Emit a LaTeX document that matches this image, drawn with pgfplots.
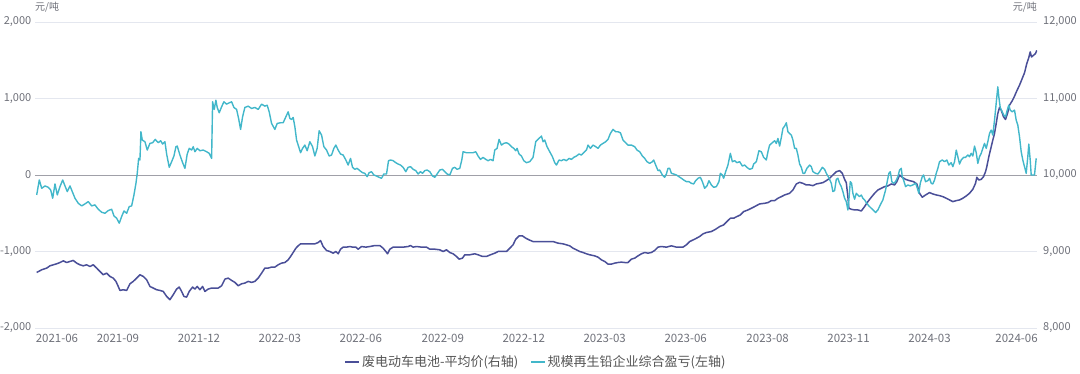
\documentclass[border=0pt]{standalone}
\usepackage{fontspec}
\setmainfont{Noto Sans CJK SC}
\usepackage{pgfplots}
\pgfplotsset{compat=1.18}
\definecolor{navyline}{RGB}{74,79,152}
\definecolor{cyanline}{RGB}{66,183,202}
\definecolor{gridc}{RGB}{228,231,239}
\definecolor{zeroc}{RGB}{160,160,168}
\definecolor{tickc}{RGB}{110,112,121}
\definecolor{legc}{RGB}{85,85,85}

\pgfplotstableread{
x y
36.7 8726
41.7 8761
46.7 8783
50 8813
53.3 8826
56.7 8839
60 8856
63.3 8878
66.7 8856
70 8870
73.3 8883
76.7 8848
80 8826
83.3 8813
86.7 8826
90 8804
93.3 8826
96.7 8783
100 8739
103.3 8696
106.7 8717
110 8674
113.3 8652
116 8609
118.3 8543
120 8491
123.3 8500
126.7 8491
130 8578
133.3 8609
136.7 8652
140 8696
143.3 8674
146.7 8630
150 8543
153.3 8522
156.7 8500
160 8491
163.3 8478
166.7 8413
170 8370
173.3 8435
176.7 8509
179.3 8535
181.7 8478
184 8413
186.7 8404
189.3 8478
192.7 8535
195 8509
197.3 8543
200 8500
202.7 8543
205 8478
208.3 8509
211.7 8522
215 8522
218.3 8522
221.7 8552
225 8639
228.3 8652
231.7 8622
235 8596
238.3 8552
241.7 8578
245 8587
248.3 8609
251.7 8596
255 8609
258.3 8652
261.7 8717
265 8783
268.3 8783
271.7 8796
275 8796
278.3 8826
281.7 8848
285 8856
288.3 8891
290.7 8935
293.3 8987
296 9043
298.3 9074
300.7 9100
305 9100
310 9100
315 9100
318.3 9117
320.7 9143
323.3 9065
326.7 9013
330 9000
333.3 8978
336 9000
338.3 8970
340.7 9030
343.3 9057
346.7 9057
350 9065
352.7 9057
356 9057
358.3 9030
361.7 9065
366 9057
370 9065
375 9078
380 9078
383.3 9043
386 9000
387.7 8970
390 9030
393.3 9057
398.3 9057
403.3 9057
408.3 9065
410.7 9078
413.3 9057
416.7 9065
421.7 9057
426.7 9057
430 9030
435 9030
440 9022
443.3 9000
446.7 9022
450 8987
453.3 8970
456.7 8935
459.3 8900
462.7 8913
465 8957
470 8957
475 8970
478.3 8957
482.7 8935
486.7 8935
490.7 8957
495 8978
498.3 9000
502.7 9000
506.7 9000
510 9043
513.3 9087
516 9161
519.3 9204
522.7 9204
526 9174
529.3 9152
533.3 9130
540 9130
546.7 9130
553.3 9130
558.3 9109
563.3 9100
566.7 9087
570 9074
573.3 9043
576.7 9022
580 9000
583.3 8987
586.7 8970
590 8957
595 8943
598.3 8926
601.7 8891
605 8870
608.3 8835
611.7 8835
615 8848
618.3 8856
621.7 8861
625 8856
628.3 8856
631.7 8900
635 8913
638.3 8943
641.7 8970
645 8987
648.3 8978
651.7 8987
655 9013
658.3 9057
661.7 9065
666.7 9057
671.7 9074
676.7 9057
683.3 9057
686.7 9087
690 9130
695 9161
700 9196
703.3 9230
706.7 9248
711.7 9261
716 9291
720 9326
724 9348
727.3 9391
730.7 9435
734 9435
737.3 9457
740.7 9478
744 9522
748.3 9543
751.7 9565
755 9587
760 9622
765 9630
768.3 9639
771.7 9665
775 9665
778.3 9696
781.7 9717
785 9739
790 9761
793.3 9804
796.7 9883
800 9904
803.3 9891
806.7 9870
810 9870
813.3 9861
816.7 9883
820 9891
823.3 9900
826.7 9926
830 9957
833.3 10000
836.7 10043
840 10057
842.7 10022
845 9943
846.7 9900
848.3 9717
849.3 9565
851.7 9552
855 9543
858.3 9543
861.7 9530
865 9587
868.3 9652
871.7 9709
875 9761
878.3 9804
881.7 9826
885 9848
888.3 9857
891.7 9883
895 9870
897.3 9913
900 10000
902.7 9970
906 9943
910 9926
914 9913
917.3 9883
920 9761
922.7 9709
926 9739
930 9770
933.3 9752
936.7 9739
940 9730
943.3 9717
946.7 9696
950 9674
953.3 9652
956.7 9665
960 9674
963.3 9696
966.7 9726
970 9761
973.3 9813
976 9891
977.3 9970
979.3 9935
981.7 9943
984 9978
986 10043
987.3 10109
989.3 10239
991.7 10370
993.3 10457
995 10543
996.7 10674
998.3 10804
1000 10883
1001.7 10848
1004 10761
1006 10726
1008 10804
1010 10913
1012.7 10970
1015 11030
1017.3 11100
1020 11174
1022.7 11261
1025 11335
1027.3 11457
1029.3 11535
1030.7 11609
1032 11543
1034 11565
1036 11587
1037.3 11630
}\batterytable

\pgfplotstableread{
x y
36.7 -261
39.3 -65
41.7 -174
45 -143
48.3 -161
50.7 -196
52.7 -304
55 -117
57.3 -261
60 -152
62.7 -65
65 -143
67.3 -217
70 -143
72.7 -230
75 -304
78.3 -370
81.7 -404
85 -378
88.3 -348
91.7 -404
95 -391
98.3 -448
101.7 -487
105 -500
108.3 -465
111.7 -448
114 -535
116.7 -565
119.3 -630
121.7 -543
124 -470
126.7 -500
129.3 -413
131.7 -404
134 -261
136 -109
137.3 22
138.7 217
140 196
141 565
142.3 457
145 435
147.3 326
150 413
152.7 422
155.3 465
158.3 422
160.7 448
162.7 404
165 435
166.7 274
169.3 100
171.7 174
174 248
176 370
177.3 378
180 261
182.7 161
185 87
187.3 274
189.3 348
191.7 326
193.3 370
195 304
197.3 348
200 317
203.3 326
206.7 304
209.3 283
211.7 217
212.7 957
214.3 857
216 978
217.3 883
219.3 813
221.7 891
224 957
226.7 926
229.3 943
231.7 957
234 883
236.7 857
238.7 739
240.7 596
242.7 761
245 883
248.3 900
251.7 870
255 883
258.3 857
261.7 926
265 900
267.3 913
269.3 826
271.7 674
275 596
277.3 674
280.7 683
283.3 683
286 761
288.3 826
290 739
291.7 726
293.3 752
295 630
296.7 457
298.3 391
300.7 291
302.7 348
305 391
307.3 317
310 435
312.7 370
315 248
317.3 348
319.3 578
321.7 522
324 370
326.7 326
329.3 248
331.7 261
334 348
336 391
338.3 326
340.7 274
343.3 261
346 196
348.3 130
350.7 217
352.7 100
355 74
357.3 87
360 57
362.7 30
365 22
367.3 -22
369.3 30
371.7 43
374 0
376.7 -13
379.3 -30
381.7 -43
384 13
386.7 13
388.7 187
390.7 196
393.3 187
396 161
398.3 143
400.7 130
403.3 100
406 43
408.3 100
410.7 109
413.3 74
416 57
418.3 13
420.7 43
422.7 22
425 57
427.3 65
430 43
432.7 -13
435 -30
437.3 13
440 65
442.7 74
445 43
447.3 13
450 0
452.7 87
455 100
457.3 74
460 87
462 196
463.3 304
466.7 291
470 291
473.3 291
476 304
478.3 248
480.7 204
483.3 230
486 204
488.3 187
490.7 204
493.3 187
495 326
497.3 348
499.3 465
501.7 391
504 413
506.7 422
509.3 404
511.7 370
514 348
516 317
517.3 348
519.3 274
521.7 248
524 187
526.7 161
530 174
533.3 230
536 435
539.3 478
541.7 509
543.3 435
545 457
547.3 370
550 304
552.7 239
555 161
556.7 130
559.3 196
561.7 187
564 204
566.7 187
569.3 217
571.7 204
574 230
576.7 248
579.3 274
581.7 261
584 291
586.7 326
588.3 391
590.7 348
593.3 391
596 370
598.3 348
600.7 391
603.3 413
606 435
608.3 465
610.7 543
613.3 596
616 565
618.3 565
620.7 552
623.3 457
626 422
628.3 391
631.7 391
635 370
637.3 326
640 304
642.7 248
645 217
647.3 174
650 152
652.7 174
654 196
656 130
658.3 57
660 65
662.7 0
665 -30
666.7 13
668.3 87
670 87
671.7 22
674 13
676.7 0
679.3 -22
681.7 -43
684 -65
686.7 -87
689.3 -87
691.7 -109
694 -117
696 -74
698.3 -43
700.7 -30
702.7 -87
705 -174
707.3 -143
709.3 -74
711.7 -130
714 -161
716.7 -152
719.3 -87
720.7 22
722.7 0
724 -43
726 43
728.3 130
730.7 283
732.7 174
735 187
737.3 161
740 174
742.7 117
745 130
747.3 100
750 74
752.7 87
754 143
756.7 174
759.3 317
761.7 304
764 230
766.7 196
768.3 304
770 391
772.7 422
775 448
776.7 413
778.3 478
780 378
781.7 491
783.3 609
785 639
786.7 683
787.7 609
788.3 565
790 543
791.7 522
793.3 457
795 348
796.7 348
798.3 261
800 143
801.7 100
803.3 22
805 22
807.3 87
810 130
811.7 109
813.3 43
816 22
818.3 13
820 43
822.7 100
825 74
826.7 22
828.3 -13
830 -57
831.7 -109
833.3 -217
835 -204
836.7 -57
838.3 -43
840 -109
841.7 -152
843.3 -217
845 -304
846.7 -348
848.3 -457
849.3 -326
850.7 -87
852 -109
853.3 -239
855 -317
856.7 -239
858.3 -261
860 -283
861.7 -261
863.3 -304
865 -326
866.7 -361
869.3 -404
871.7 -435
874 -465
876 -491
878.3 -457
880.7 -391
883.3 -326
886 -196
887.3 -109
889.3 22
890.7 43
892.3 -87
894 -109
896 -87
898.3 -22
900 65
901.7 87
902.7 -22
904 -65
906 -152
908.3 -130
910.7 -143
913.3 -130
916 -109
917.3 -152
919.3 -239
920.7 -109
922.7 -22
924 0
926 -87
928.3 -74
930 -43
931.7 -109
933.3 -117
935 -65
936.7 22
938.3 87
940 174
942.7 196
945 174
947.3 196
949.3 130
951.7 161
953.3 109
955 174
956.7 326
958.3 239
960 143
961.7 196
964 230
966 230
968.3 261
970 239
971.7 283
973.3 248
975 378
976.7 291
978.3 152
980 239
981.7 283
983.3 348
985 413
986.7 348
988.3 435
990 543
991.7 587
993.3 522
995 717
996 848
997.3 1022
998.3 1152
999.3 1022
1000.7 883
1002.7 826
1004.3 783
1006 761
1007.7 848
1009.3 913
1010.7 848
1012.7 826
1015 848
1016.7 717
1018.3 652
1020 500
1021.7 304
1023.3 196
1025 109
1026.7 22
1028.3 239
1029.3 404
1030.7 196
1031.7 0
1033.3 0
1035 0
1036.7 217
}\profittable

\begin{document}
\begin{tikzpicture}
\useasboundingbox (0,0) rectangle (1080pt,374pt);
% right axis (battery price) with grid
\begin{axis}[
  at={(35pt,46pt)}, anchor=south west, scale only axis,
  width=1002pt, height=306pt,
  xmin=35, xmax=1037.5, ymin=8000, ymax=12000,
  axis y line*=right, hide x axis,
  axis line style={draw=none}, tick style={draw=none},
  scaled y ticks=false, scaled x ticks=false,
  ytick={8000,9000,11000,12000},
  yticklabels={8{,}000,9{,}000,11{,}000,12{,}000},
  extra y ticks={10000},
  extra y tick labels={10{,}000},
  extra y tick style={major grid style={draw=zeroc, line width=0.9pt}},
  ymajorgrids, major grid style={draw=gridc, line width=0.7pt},
  yticklabel style={font=\fontsize{11}{12}\selectfont, text=tickc, inner sep=0pt, anchor=west, xshift=6pt},
]
\addplot[navyline, line width=1.5pt, line join=round] table[x=x,y=y] {\batterytable};
\end{axis}
% left axis (profit)
\begin{axis}[
  at={(35pt,46pt)}, anchor=south west, scale only axis,
  width=1002pt, height=306pt,
  xmin=35, xmax=1037.5, ymin=-2000, ymax=2000,
  axis y line*=left, axis x line*=bottom,
  axis line style={draw=none}, tick style={draw=none},
  scaled y ticks=false, scaled x ticks=false,
  clip mode=individual,
  ytick={-2000,-1000,0,1000,2000},
  yticklabels={-2{,}000,-1{,}000,0,1{,}000,2{,}000},
  yticklabel style={font=\fontsize{11}{12}\selectfont, text=tickc, inner sep=0pt, anchor=east, xshift=-3.5pt},
  xtick={57,118,199,280,361,443,524,605,686,768,849,930,1017},
  xticklabels={2021-06,2021-09,2021-12,2022-03,2022-06,2022-09,2022-12,2023-03,2023-06,2023-08,2023-11,2024-03,2024-06},
  xticklabel style={font=\fontsize{11.5}{12}\selectfont, text=tickc, inner sep=0pt, anchor=north, yshift=-6pt},
  legend style={at={(0.5,-0.111)}, anchor=center, draw=none, fill=none,
    legend columns=2, font=\fontsize{13}{13}\selectfont, text=legc,
    /tikz/every even column/.append style={column sep=10pt}},
  legend image code/.code={\draw[#1] (0pt,0pt) -- (14pt,0pt);},
]
\addlegendimage{navyline, line width=1.5pt}
\addlegendentry{废电动车电池-平均价(右轴)}
\addplot[cyanline, line width=1.4pt, line join=round] table[x=x,y=y] {\profittable};
\addlegendentry{规模再生铅企业综合盈亏(左轴)}
\node[anchor=west, inner sep=0pt, font=\fontsize{10}{10}\selectfont, text=tickc] at (rel axis cs:0,1.049) {元/吨};
\node[anchor=east, inner sep=0pt, font=\fontsize{10}{10}\selectfont, text=tickc] at (rel axis cs:1,1.049) {元/吨};
\end{axis}
\end{tikzpicture}
\end{document}
